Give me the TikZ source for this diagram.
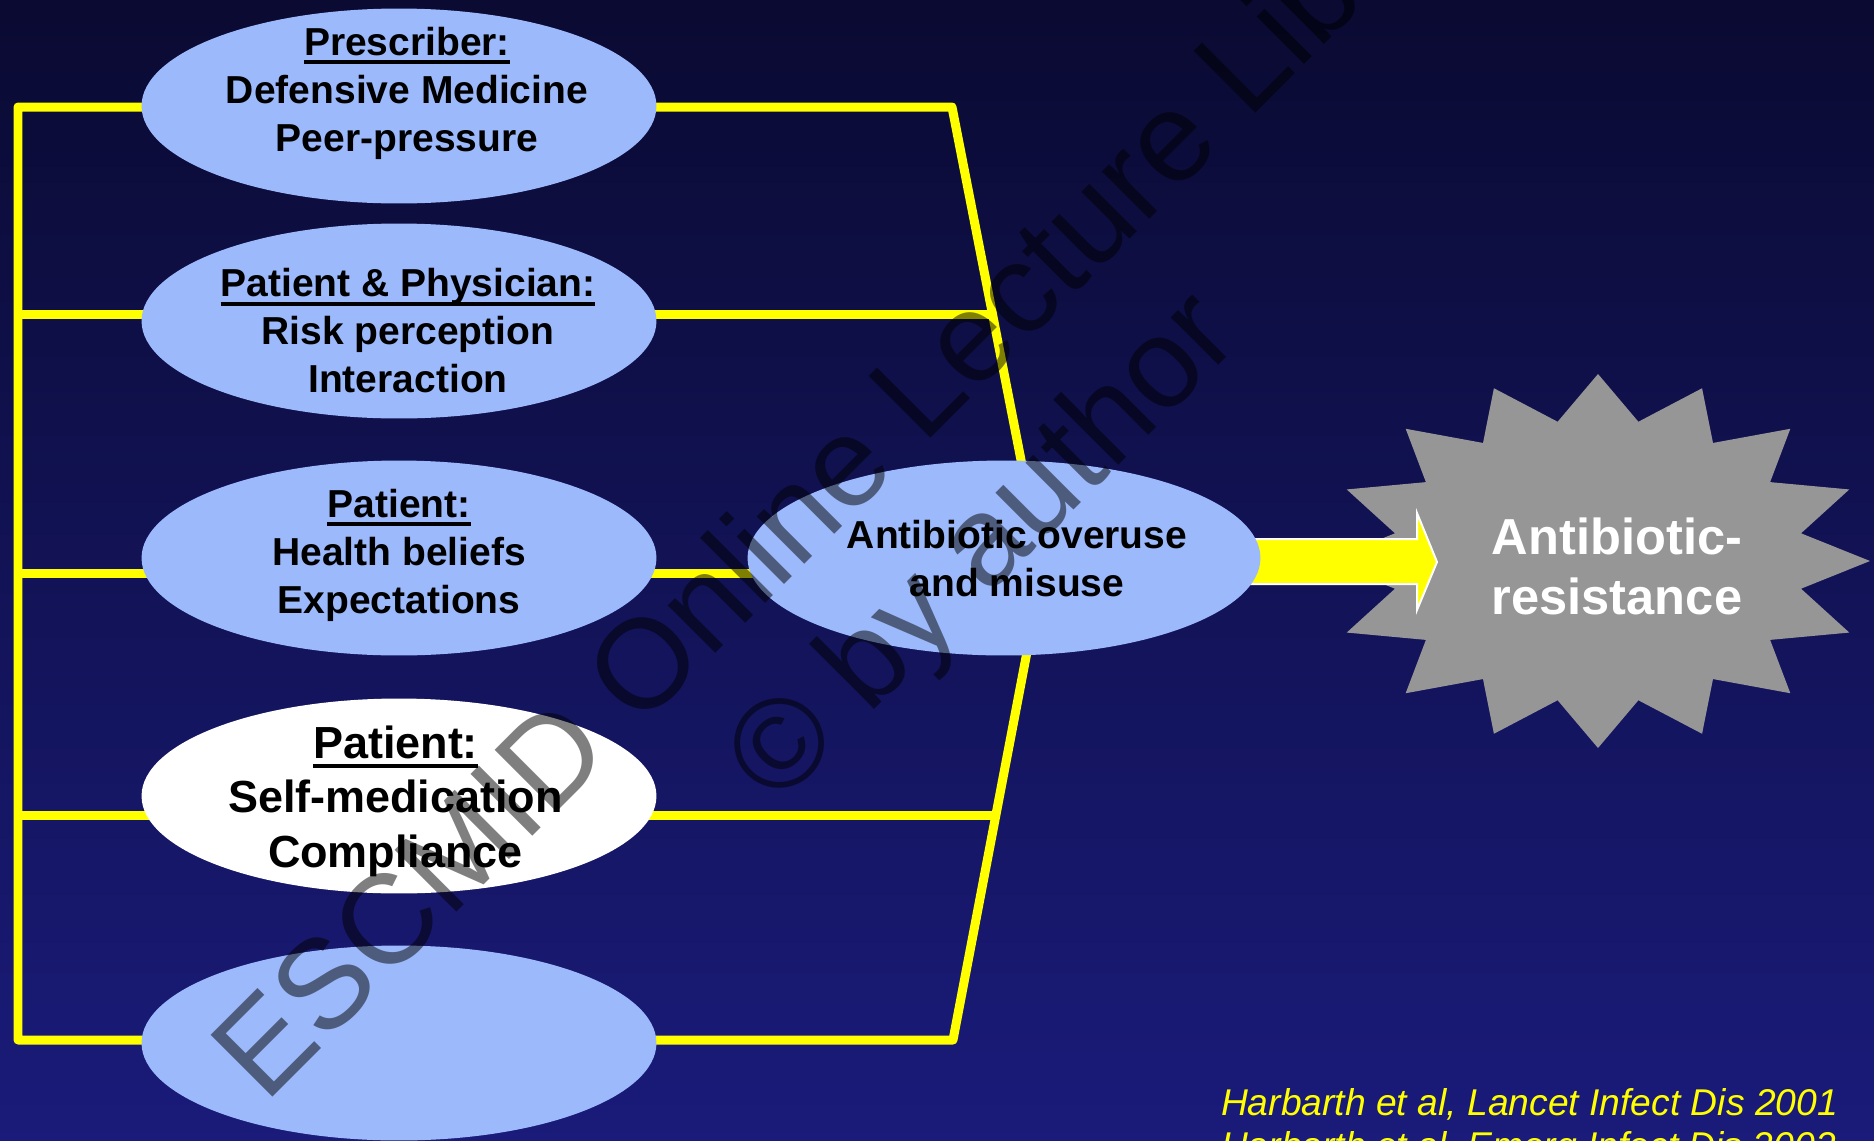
\documentclass[tikz,border=0pt]{standalone}
\usepackage{fontspec}
\setmainfont{Liberation Sans}
\usetikzlibrary{shapes.geometric,backgrounds,calc}

\definecolor{bgtop}{RGB}{10,10,50}
\definecolor{bgbot}{RGB}{26,27,122}
\definecolor{bubblue}{RGB}{156,185,251}
\definecolor{wirey}{RGB}{255,255,0}
\definecolor{stargray}{RGB}{150,150,150}

\newcommand{\ulhead}[1]{{\setbox0\hbox{#1}\rlap{\rule[-0.22em]{\wd0}{0.09em}}\box0}}

\begin{document}
\begin{tikzpicture}
  [x=0.02cm, y=-0.02cm,
  every node/.style={inner sep=0pt, outer sep=0pt},
  bubble/.style={ellipse, fill=bubblue, minimum width=10.3cm, minimum height=3.9cm},
  bubtext/.style={align=center, font=\fontsize{22.2pt}{27.3pt}\selectfont\bfseries},
  bigtext/.style={font=\fontsize{25.6pt}{31pt}\selectfont\bfseries},
  startext/.style={align=center, text=white, font=\fontsize{28.8pt}{34.1pt}\selectfont\bfseries},
  cite/.style={align=left, text=wirey, font=\fontsize{21.2pt}{25pt}\selectfont\itshape},
  wire/.style={draw=wirey, line width=0.18cm, line join=round},
  bigarrow/.style={fill=wirey, draw=white, line width=0.04cm},
  watermark/.style={text=black, text opacity=0.5, rotate=45, anchor=base west,
    font=\fontsize{72.3pt}{86pt}\selectfont}]
  \useasboundingbox (0,0) rectangle (1874,1140);

  \coordinate (starc) at (1598,561);
  \fill[stargray] ($(starc)+(90:272 and 187)$)
    \foreach \k [evaluate=\k as \ang using {90+\k*11.25},
                 evaluate=\k as \ax using {(mod(\k,2)==0) ? 272 : 207},
                 evaluate=\k as \ay using {(mod(\k,2)==0) ? 187 : 142}] in {1,...,31}
      { -- ($(starc)+(\ang:{\ax} and {\ay})$) } -- cycle;

  \coordinate (tip) at (1437,562);
  \filldraw[bigarrow] (tip) -- ++(-20,-49) -- ++(0,26) -- ++(-230,0)
    -- ++(0,45) -- ++(230,0) -- ++(0,26) -- cycle;

  \node[bubble] (presc) at (399,106) {};
  \node[bubble] (patphys) at (399,321) {};
  \node[bubble] (patient) at (399,558) {};
  \node[bubble, fill=white] (selfmed) at (399,796) {};
  \node[bubble] (blank) at (399,1043) {};
  \node[bubble, minimum width=10.26cm] (ctr) at (1004,558) {};

  \node[bubtext] (prescT) at (407,93) {\ulhead{Prescriber:}\\Defensive Medicine\\Peer-pressure};
  \node[bubtext] (patphysT) at (408,331) {\ulhead{Patient \& Physician:}\\Risk perception\\Interaction};
  \node[bubtext] (patientT) at (399,555) {\ulhead{Patient:}\\Health beliefs\\Expectations};
  \node[bubtext, bigtext] (selfmedT) at (395.5,801) {\ulhead{Patient:}\\Self-medication\\Compliance};
  \node[bubtext] (ctrT) at (1017,559) {Antibiotic overuse\\and misuse};
  \node[startext] (starT) at (1617,566) {Antibiotic-\\resistance};

  \node[cite, anchor=north west] (refs) at (1221,1088)
    {Harbarth et al, Lancet Infect Dis 2001\\Harbarth et al, Emerg Infect Dis 2002};

  \begin{scope}[on background layer]
    \shade[top color=bgtop, bottom color=bgbot] (0,0) rectangle (1874,1140);
    \coordinate (tl) at (18,107);
    \coordinate (bl) at (18,1040);
    \coordinate (tr) at (952,107);
    \coordinate (br) at (953,1040);
    \draw[wire] ($(tr)!1.1!(ctr.80)$) -- (tr) -- (tl) -- (bl) -- (br) -- ($(br)!1.1!(ctr.-77)$);
    \foreach \yy/\xx [count=\i] in {314/992,573/800,815/996}{
      \coordinate (l\i) at (18,\yy);
      \coordinate (r\i) at (\xx,\yy);
      \draw[wire] (l\i) -- (r\i);
    }
  \end{scope}

  \node[watermark] (wm1) at (265,1104) {ESCMID Online Lecture Library};
  \node[watermark] (wm2) at (777,807) {© by author};
\end{tikzpicture}
\end{document}
